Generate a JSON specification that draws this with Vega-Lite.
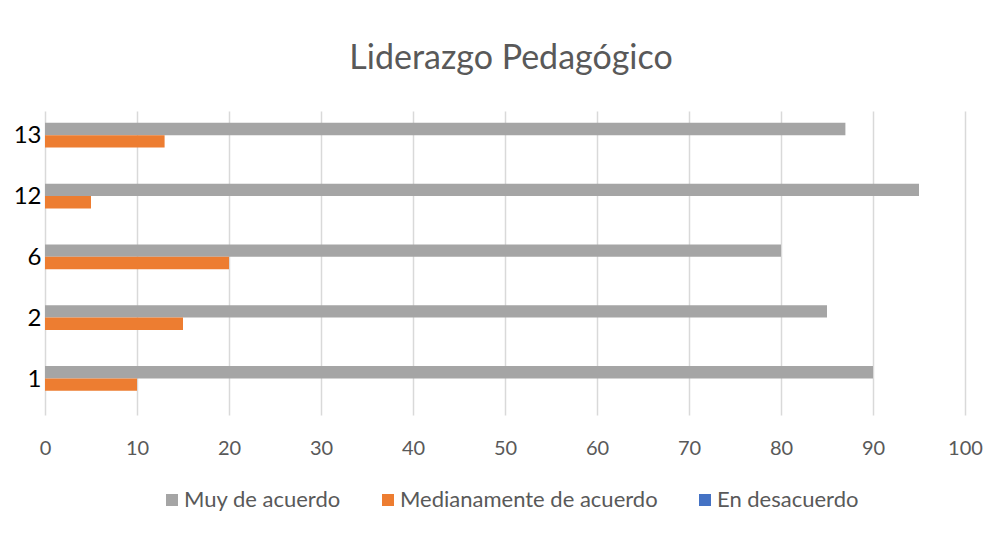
{
  "$schema": "https://vega.github.io/schema/vega-lite/v6.json",
  "width": 920,
  "height": 304,
  "autosize": "none",
  "padding": {"left": 45, "top": 111, "right": 35, "bottom": 118},
  "background": "white",
  "title": {
    "text": "Liderazgo Pedagógico",
    "font": "Lato",
    "fontSize": 34,
    "fontWeight": "normal",
    "color": "#595959",
    "anchor": "middle",
    "offset": 35,
    "dx": 6
  },
  "data": {
    "values": [
      {"cat": "13", "serie": "Muy de acuerdo", "valor": 87},
      {"cat": "13", "serie": "Medianamente de acuerdo", "valor": 13},
      {"cat": "13", "serie": "En desacuerdo", "valor": 0},
      {"cat": "12", "serie": "Muy de acuerdo", "valor": 95},
      {"cat": "12", "serie": "Medianamente de acuerdo", "valor": 5},
      {"cat": "12", "serie": "En desacuerdo", "valor": 0},
      {"cat": "6", "serie": "Muy de acuerdo", "valor": 80},
      {"cat": "6", "serie": "Medianamente de acuerdo", "valor": 20},
      {"cat": "6", "serie": "En desacuerdo", "valor": 0},
      {"cat": "2", "serie": "Muy de acuerdo", "valor": 85},
      {"cat": "2", "serie": "Medianamente de acuerdo", "valor": 15},
      {"cat": "2", "serie": "En desacuerdo", "valor": 0},
      {"cat": "1", "serie": "Muy de acuerdo", "valor": 90},
      {"cat": "1", "serie": "Medianamente de acuerdo", "valor": 10},
      {"cat": "1", "serie": "En desacuerdo", "valor": 0}
    ]
  },
  "mark": {"type": "bar"},
  "encoding": {
    "y": {
      "field": "cat",
      "type": "nominal",
      "sort": ["13", "12", "6", "2", "1"],
      "scale": {"paddingInner": 0.39, "paddingOuter": 0.195},
      "axis": {
        "title": null,
        "domain": false,
        "ticks": false,
        "labelFont": "Lato",
        "labelFontSize": 24,
        "labelColor": "#000000",
        "labelPadding": 4,
        "labelOffset": -5
      }
    },
    "yOffset": {
      "field": "serie",
      "type": "nominal",
      "sort": ["Muy de acuerdo", "Medianamente de acuerdo", "En desacuerdo"]
    },
    "x": {
      "field": "valor",
      "type": "quantitative",
      "scale": {"domain": [0, 100], "nice": false},
      "axis": {
        "title": null,
        "values": [0, 10, 20, 30, 40, 50, 60, 70, 80, 90, 100],
        "domain": false,
        "ticks": false,
        "grid": true,
        "gridColor": "#d9d9d9",
        "gridWidth": 1.5,
        "labelFlush": false,
        "labelFont": "Lato",
        "labelFontSize": 20,
        "labelColor": "#595959",
        "labelPadding": 23
      }
    },
    "color": {
      "field": "serie",
      "type": "nominal",
      "sort": ["Muy de acuerdo", "Medianamente de acuerdo", "En desacuerdo"],
      "scale": {
        "domain": ["Muy de acuerdo", "Medianamente de acuerdo", "En desacuerdo"],
        "range": ["#A5A5A5", "#ED7D31", "#4472C4"]
      },
      "legend": {
        "title": null,
        "orient": "none",
        "direction": "horizontal",
        "legendX": 116,
        "legendY": 378,
        "symbolType": "square",
        "symbolSize": 144,
        "symbolStrokeWidth": 0,
        "labelFont": "Lato",
        "labelFontSize": 22,
        "labelColor": "#595959",
        "labelOffset": 1,
        "columnPadding": 36,
        "labelLimit": 400
      }
    }
  },
  "config": {
    "view": {"stroke": null}
  }
}
